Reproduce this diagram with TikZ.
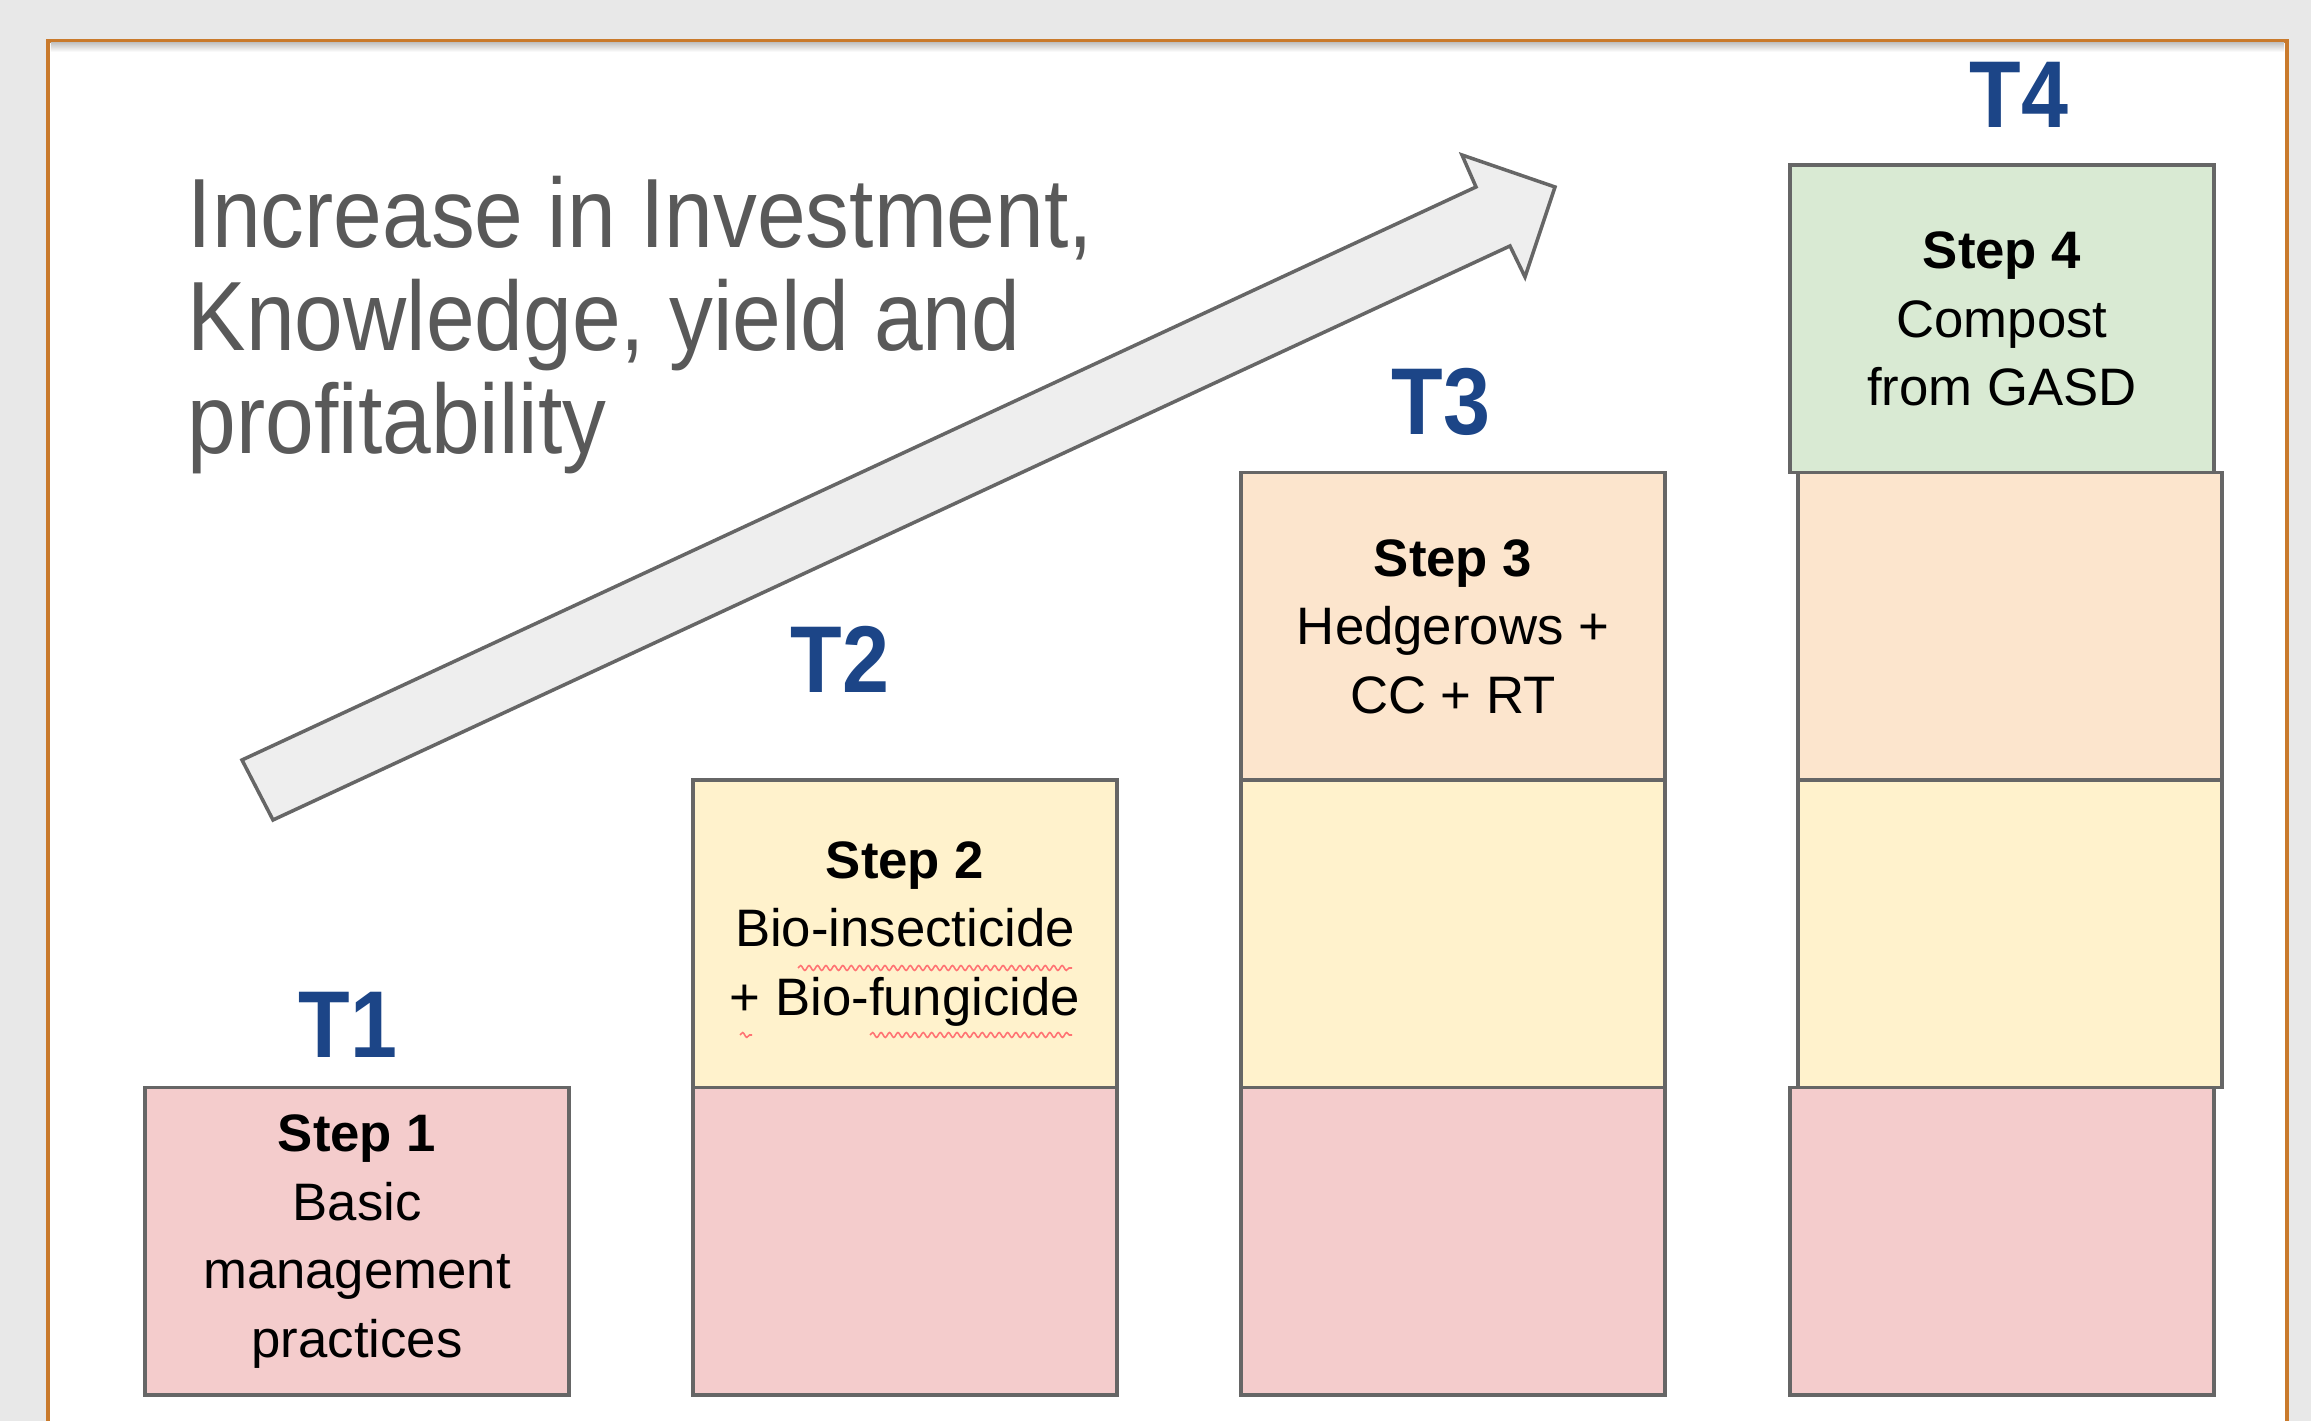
\documentclass[tikz,border=0pt]{standalone}
\usepackage{fontspec}
\setmainfont{Liberation Sans}
\newfontfamily\narrowsans[FakeStretch=0.89]{Liberation Sans}
\usetikzlibrary{positioning,decorations.pathmorphing}

\definecolor{stepred}{HTML}{F4CCCC}
\definecolor{stepyellow}{HTML}{FFF2CC}
\definecolor{steporange}{HTML}{FCE5CD}
\definecolor{stepgreen}{HTML}{D9EAD3}
\definecolor{tblue}{HTML}{1C4587}
\definecolor{framec}{HTML}{C97A2C}
\definecolor{pagebg}{HTML}{E8E8E8}
\definecolor{arrowfill}{HTML}{EEEEEE}
\definecolor{edgegray}{HTML}{666666}
\definecolor{titlegray}{HTML}{595959}

\begin{document}
\begin{tikzpicture}[
    blk/.style={draw=edgegray, line width=1pt, minimum width=4.24cm, minimum height=3.075cm,
        outer sep=0pt, inner sep=0pt, align=center, font=\fontsize{15}{19.5}\selectfont},
    tlabel/.style={text=tblue, anchor=base, inner sep=0pt,
        font=\narrowsans\bfseries\fontsize{27}{27}\selectfont},
    spell/.style={red!55, line width=0.45pt,
        decorate, decoration={snake, amplitude=0.7pt, segment length=2.4pt}}
]

        \clip (0,0) rectangle (23.11,14.21);
        \fill[pagebg] (0,0) rectangle (23.11,14.21);

        % slide frame
        \draw[framec, fill=white, line width=0.9pt] (0.48,-0.2) rectangle (22.87,13.80);
        \shade[top color=gray!45, bottom color=white] (0.51,13.69) rectangle (22.84,13.78);

        \node[font=\narrowsans\fontsize{28}{29.3}\selectfont, text=titlegray, align=left,
            anchor=north west, inner sep=0pt] (gain) at (1.87,12.45)
            {Increase in Investment,\\Knowledge, yield and\\profitability};

        % the big arrow
        \draw[draw=edgegray, fill=arrowfill, line width=1pt, line join=miter]
            (2.42,6.61) -- (14.76,12.34) -- (14.62,12.66) -- (15.55,12.34)
            -- (15.25,11.44) -- (15.10,11.75) -- (2.73,6.01) -- cycle;

        % T1
        \node[blk, fill=stepred] (p1) at (3.57,1.795) {\textbf{Step 1}\\Basic\\management\\practices};

        % T2
        \node[blk, fill=stepred] (p2) at (9.05,1.795) {};
        \node[blk, fill=stepyellow, above=0pt of p2] (y2) {\textbf{Step 2}\\Bio-insecticide\\+ Bio-fungicide};
        \draw[spell] (7.98,4.53) -- (10.72,4.53);
        \draw[spell] (7.40,3.86) -- (7.52,3.86);
        \draw[spell] (8.70,3.86) -- (10.72,3.86);

        % T3
        \node[blk, fill=stepred] (p3) at (14.53,1.795) {};
        \node[blk, fill=stepyellow, above=0pt of p3] (y3) {};
        \node[blk, fill=steporange, above=0pt of y3] (o3) {\textbf{Step 3}\\Hedgerows +\\CC + RT};

        % T4
        \node[blk, fill=stepred] (p4) at (20.02,1.795) {};
        \node[blk, fill=stepyellow, above=0pt of p4, xshift=0.08cm] (y4) {};
        \node[blk, fill=steporange, above=0pt of y4] (o4) {};
        \node[blk, fill=stepgreen, above=0pt of o4, xshift=-0.08cm] (g4) {\textbf{Step 4}\\Compost\\from GASD};

        \node[tlabel] (t1) at (3.48,3.63) {T1};
        \node[tlabel] (t2) at (8.40,7.28) {T2};
        \node[tlabel] (t3) at (14.41,9.86) {T3};
        \node[tlabel] (t4) at (20.19,12.93) {T4};

\end{tikzpicture}
\end{document}
